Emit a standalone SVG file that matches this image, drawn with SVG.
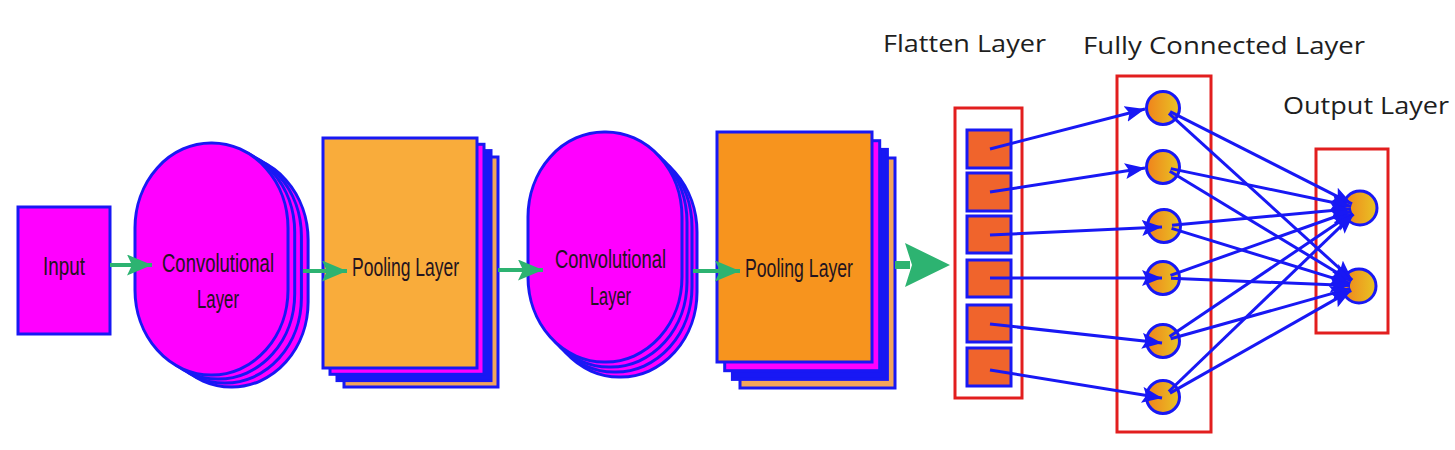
<svg xmlns="http://www.w3.org/2000/svg" width="1455" height="450" viewBox="0 0 1455 450">
<style>
.lbl{font-family:"Liberation Sans Narrow","Liberation Sans",Arial,sans-serif;font-size:25px;fill:#241420}
.ttl{font-family:"Open Sans","Liberation Sans",sans-serif;font-size:24px;fill:#1e1e1e}
.bl{stroke:#1818f4;stroke-width:3}
.mag{fill:#ff00ff}
.box{fill:none;stroke:#e21e1e;stroke-width:3}
.sq{fill:#f0642c;stroke:#1818f4;stroke-width:3}
.nd{fill:url(#g);stroke:#1818f4;stroke-width:3}
.cn{stroke:#1818f4;stroke-width:3;fill:none;marker-end:url(#ab)}
.gr{stroke:#2db371;stroke-width:4;fill:none}
</style>
<defs>
<linearGradient id="g" x1="0" y1="0" x2="1" y2="0">
<stop offset="0" stop-color="#f0821c"/>
<stop offset="1" stop-color="#e8c424"/>
</linearGradient>
<marker id="ab" markerUnits="userSpaceOnUse" markerWidth="22" markerHeight="18" refX="20" refY="8" orient="auto">
<path d="M0,0 L20,8 L0,16 L4,8 z" fill="#1818f4"/>
</marker>
<marker id="ag" markerUnits="userSpaceOnUse" markerWidth="26" markerHeight="22" refX="25" refY="10.5" orient="auto">
<path d="M0,0 L25,10.5 L0,21 L5,10.5 z" fill="#2db371"/>
</marker>
</defs>
<rect width="1455" height="450" fill="#ffffff"/>

<g id="input">
<rect x="18" y="207" width="92" height="127" class="mag bl"/>
<text class="lbl" x="43" y="275" textLength="42" lengthAdjust="spacingAndGlyphs">Input</text>
</g>

<g id="conv1">
<rect x="155.1" y="155" width="153" height="232" rx="76" ry="85" class="mag bl"/>
<rect x="148.4" y="151" width="153" height="232" rx="76" ry="85" class="mag bl"/>
<rect x="141.7" y="147" width="153" height="232" rx="76" ry="85" class="mag bl"/>
<rect x="135" y="143" width="153" height="232" rx="76" ry="85" class="mag bl"/>
<text class="lbl" x="162" y="272" textLength="112" lengthAdjust="spacingAndGlyphs">Convolutional</text>
<text class="lbl" x="197" y="308" textLength="42" lengthAdjust="spacingAndGlyphs">Layer</text>
</g>

<g id="pool1">
<rect x="344" y="157" width="154" height="230" fill="#f3a55c" class="bl"/>
<rect x="337" y="150.6" width="154" height="230" fill="#1818f4" class="bl"/>
<rect x="330" y="144.3" width="154" height="230" class="mag bl"/>
<rect x="323" y="138" width="154" height="230" fill="#f9ac3b" class="bl"/>
<text class="lbl" x="352" y="276" textLength="107" lengthAdjust="spacingAndGlyphs">Pooling Layer</text>
</g>

<g id="conv2">
<rect x="543" y="147" width="154" height="230" rx="76" ry="85" class="mag bl"/>
<rect x="538" y="142" width="154" height="230" rx="76" ry="85" class="mag bl"/>
<rect x="533" y="137" width="154" height="230" rx="76" ry="85" class="mag bl"/>
<rect x="528" y="132" width="154" height="230" rx="76" ry="85" class="mag bl"/>
<text class="lbl" x="555" y="268" textLength="111" lengthAdjust="spacingAndGlyphs">Convolutional</text>
<text class="lbl" x="590" y="305" textLength="41" lengthAdjust="spacingAndGlyphs">Layer</text>
</g>

<g id="pool2">
<rect x="740" y="158" width="155" height="230" fill="#f3a55c" class="bl"/>
<rect x="732.4" y="149.4" width="155" height="230" fill="#1818f4" class="bl"/>
<rect x="724.7" y="140.7" width="155" height="230" class="mag bl"/>
<rect x="717" y="132" width="155" height="230" fill="#f7941e" class="bl"/>
<text class="lbl" x="745" y="277" textLength="108" lengthAdjust="spacingAndGlyphs">Pooling Layer</text>
</g>

<g id="flatten">
<text class="ttl" x="883" y="52" textLength="163" lengthAdjust="spacingAndGlyphs">Flatten Layer</text>
<rect x="955" y="108" width="67" height="290" class="box"/>
<rect x="967" y="130" width="44" height="38" class="sq"/>
<rect x="967" y="173" width="44" height="38" class="sq"/>
<rect x="967" y="216" width="44" height="37" class="sq"/>
<rect x="967" y="260" width="44" height="37" class="sq"/>
<rect x="967" y="305" width="44" height="37" class="sq"/>
<rect x="967" y="348" width="44" height="38" class="sq"/>
</g>

<g id="fully-connected">
<text class="ttl" x="1083" y="54" textLength="282" lengthAdjust="spacingAndGlyphs">Fully Connected Layer</text>
<rect x="1117" y="76" width="94" height="356" class="box"/>
<circle cx="1163" cy="108" r="16.5" class="nd"/>
<circle cx="1163" cy="167" r="16.5" class="nd"/>
<circle cx="1164" cy="226" r="16.5" class="nd"/>
<circle cx="1163" cy="278" r="16.5" class="nd"/>
<circle cx="1163" cy="341" r="16.5" class="nd"/>
<circle cx="1163" cy="397" r="16.5" class="nd"/>
</g>

<g id="output">
<text class="ttl" x="1283" y="114" textLength="166" lengthAdjust="spacingAndGlyphs">Output Layer</text>
<rect x="1316" y="149" width="72" height="184" class="box"/>
<circle cx="1360" cy="208" r="17" class="nd"/>
<circle cx="1359" cy="286" r="17" class="nd"/>
</g>

<g id="connectors">
<line x1="110" y1="265" x2="152" y2="265" class="gr" marker-end="url(#ag)"/>
<line x1="303" y1="271" x2="347" y2="271" class="gr" marker-end="url(#ag)"/>
<line x1="498" y1="270" x2="543" y2="270" class="gr" marker-end="url(#ag)"/>
<line x1="693" y1="271" x2="740" y2="271" class="gr" marker-end="url(#ag)"/>
<line x1="895" y1="265" x2="910" y2="265" stroke="#2db371" stroke-width="8"/>
<path d="M905,243 L950,265 L905,287 L912,265 z" fill="#2db371"/>

<line x1="990" y1="149" x2="1145" y2="109" class="cn"/>
<line x1="990" y1="192" x2="1145" y2="168" class="cn"/>
<line x1="990" y1="235" x2="1162" y2="227" class="cn"/>
<line x1="990" y1="278" x2="1162" y2="278" class="cn"/>
<line x1="990" y1="324" x2="1162" y2="343" class="cn"/>
<line x1="990" y1="370" x2="1162" y2="398" class="cn"/>

<line x1="1170.1" y1="111.6" x2="1352" y2="203.9" class="cn"/>
<line x1="1168.9" y1="113.4" x2="1352.3" y2="280" class="cn"/>
<line x1="1170.8" y1="168.6" x2="1351.2" y2="206.2" class="cn"/>
<line x1="1169.8" y1="171.2" x2="1351.3" y2="281.3" class="cn"/>
<line x1="1172" y1="225.3" x2="1351" y2="208.8" class="cn"/>
<line x1="1171.6" y1="228.4" x2="1350.4" y2="283.4" class="cn"/>
<line x1="1170.5" y1="275.3" x2="1351.5" y2="211" class="cn"/>
<line x1="1171" y1="278.3" x2="1350" y2="285.6" class="cn"/>
<line x1="1169.6" y1="336.5" x2="1352.5" y2="213" class="cn"/>
<line x1="1170.7" y1="338.8" x2="1350.3" y2="288.4" class="cn"/>
<line x1="1168.8" y1="391.5" x2="1353.5" y2="214.2" class="cn"/>
<line x1="1170" y1="393.1" x2="1351.2" y2="290.4" class="cn"/>
</g>
</svg>
